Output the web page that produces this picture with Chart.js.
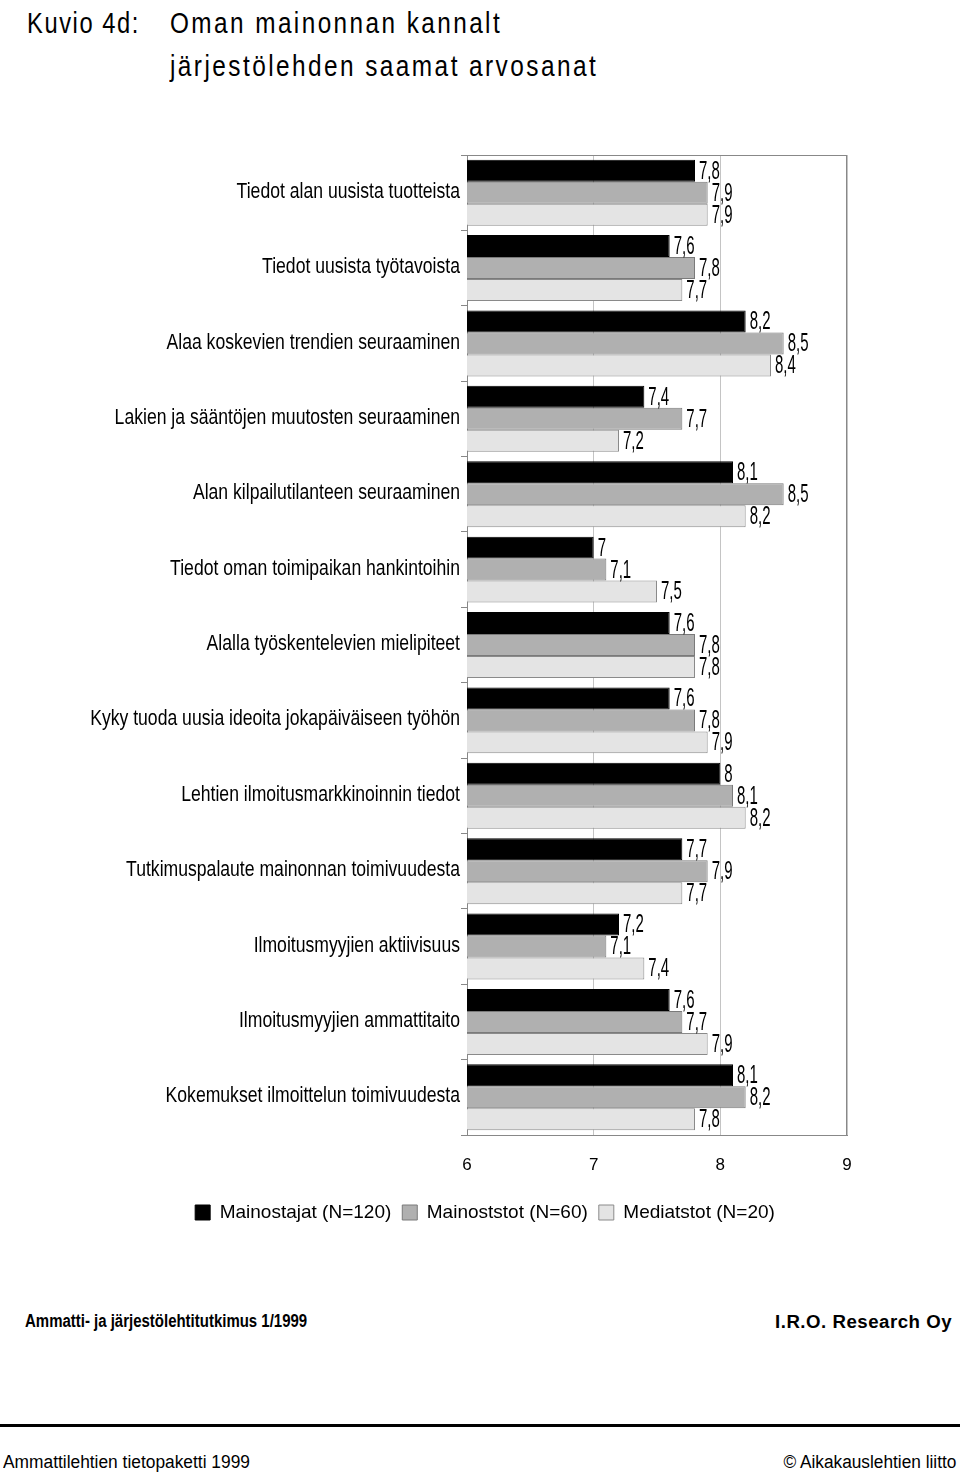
<!DOCTYPE html>
<html>
<head>
<meta charset="utf-8">
<script src="https://cdn.jsdelivr.net/npm/chart.js@4.4.0/dist/chart.umd.min.js"></script>
<style>
  body { margin: 0; background: #fff; width: 960px; height: 1474px; position: relative; overflow: hidden;
         font-family: "Liberation Sans", Arial, sans-serif; color: #000; }
  .teksti { position: absolute; white-space: nowrap; line-height: 1; }
  #kaavio { position: absolute; left: 0; top: 150px; width: 960px; height: 1082px; }
</style>
</head>
<body>
<div class="teksti" data-w="113" style="left:27px; top:8px; font-size:30px; letter-spacing:2px;">Kuvio 4d:</div>
<div class="teksti" data-w="332" style="left:170px; top:8px; font-size:30px; letter-spacing:3px;">Oman mainonnan kannalt</div>
<div class="teksti" data-w="428" style="left:170px; top:51px; font-size:30px; letter-spacing:3px;">järjestölehden saamat arvosanat</div>

<div id="kaavio"><canvas id="graafi"></canvas></div>

<div class="teksti" data-w="282" style="left:25px; top:1312px; font-size:18px; font-weight:bold;">Ammatti- ja järjestölehtitutkimus 1/1999</div>
<div class="teksti" data-w="177" data-oikea="1" style="right:8px; top:1313px; font-size:18px; font-weight:bold; letter-spacing:0.5px;">I.R.O. Research Oy</div>
<div class="teksti" style="left:0; top:1424px; width:960px; height:3px; background:#000;"></div>
<div class="teksti" data-w="247" style="left:3px; top:1453px; font-size:18px;">Ammattilehtien tietopaketti 1999</div>
<div class="teksti" data-w="173" data-oikea="1" style="right:4px; top:1453px; font-size:18px;">© Aikakauslehtien liitto</div>

<script>
const kategoriat = [
  'Tiedot alan uusista tuotteista',
  'Tiedot uusista työtavoista',
  'Alaa koskevien trendien seuraaminen',
  'Lakien ja sääntöjen muutosten seuraaminen',
  'Alan kilpailutilanteen seuraaminen',
  'Tiedot oman toimipaikan hankintoihin',
  'Alalla työskentelevien mielipiteet',
  'Kyky tuoda uusia ideoita jokapäiväiseen työhön',
  'Lehtien ilmoitusmarkkinoinnin tiedot',
  'Tutkimuspalaute mainonnan toimivuudesta',
  'Ilmoitusmyyjien aktiivisuus',
  'Ilmoitusmyyjien ammattitaito',
  'Kokemukset ilmoittelun toimivuudesta'
];
const mainostajat = [7.8, 7.6, 8.2, 7.4, 8.1, 7.0, 7.6, 7.6, 8.0, 7.7, 7.2, 7.6, 8.1];
const mainostoimistot = [7.9, 7.8, 8.5, 7.7, 8.5, 7.1, 7.8, 7.8, 8.1, 7.9, 7.1, 7.7, 8.2];
const mediatoimistot = [7.9, 7.7, 8.4, 7.2, 8.2, 7.5, 7.8, 7.9, 8.2, 7.7, 7.4, 7.9, 7.8];
const sarjaNimet = ['Mainostajat (N=120)', 'Mainoststot (N=60)', 'Mediatstot (N=20)'];
const asteikko = [6, 7, 8, 9];

const fontti = '"Liberation Sans", Arial, sans-serif';

// html-tekstit kavennetaan kuvan leveyteen
document.querySelectorAll('.teksti[data-w]').forEach(el => {
  const k = Number(el.dataset.w) / el.getBoundingClientRect().width;
  el.style.transformOrigin = el.dataset.oikea ? 'right center' : 'left center';
  el.style.transform = 'scaleX(' + k.toFixed(3) + ')';
});

function kapeaTeksti(ctx, teksti, x, y, kerroin) {
  ctx.save();
  ctx.translate(x, y);
  ctx.scale(kerroin, 1);
  ctx.fillText(teksti, 0, 0);
  ctx.restore();
}

// luokkien nimet ja arvot kapealla kirjaimella
const tekstit = {
  id: 'tekstit',
  afterDatasetsDraw(chart) {
    const ctx = chart.ctx;
    const y = chart.scales.y;
    ctx.save();
    ctx.fillStyle = '#000';
    ctx.textBaseline = 'middle';

    ctx.font = '22px ' + fontti;
    ctx.textAlign = 'right';
    chart.data.labels.forEach((nimi, i) => {
      kapeaTeksti(ctx, nimi, y.right - 7, y.getPixelForTick(i) - 1, 0.8);
    });

    ctx.font = '25px ' + fontti;
    ctx.textAlign = 'left';
    chart.data.datasets.forEach((ds, i) => {
      chart.getDatasetMeta(i).data.forEach((palkki, j) => {
        kapeaTeksti(ctx, String(ds.data[j]).replace('.', ','), palkki.x + 4, palkki.y + 1, 0.6);
      });
    });
    ctx.restore();
  }
};

const kehys = {
  id: 'kehys',
  beforeDatasetsDraw(chart) {
    const a = chart.chartArea;
    const ctx = chart.ctx;
    ctx.save();
    ctx.strokeStyle = '#888';
    ctx.lineWidth = 1;
    ctx.strokeRect(a.left + 0.5, a.top + 0.5, a.right - a.left - 1, a.bottom - a.top);
    ctx.restore();
  }
};

new Chart(document.getElementById('graafi'), {
  type: 'bar',
  data: {
    labels: kategoriat,
    datasets: [
      { label: sarjaNimet[0], data: mainostajat, backgroundColor: '#000', borderColor: '#000', borderWidth: 1 },
      { label: sarjaNimet[1], data: mainostoimistot, backgroundColor: '#b0b0b0', borderColor: '#7a7a7a', borderWidth: 1 },
      { label: sarjaNimet[2], data: mediatoimistot, backgroundColor: '#e4e4e4', borderColor: '#8a8a8a', borderWidth: 1 }
    ]
  },
  options: {
    indexAxis: 'y',
    responsive: true,
    maintainAspectRatio: false,
    animation: false,
    categoryPercentage: 0.875,
    barPercentage: 1.0,
    layout: { padding: { top: 5, right: 113, left: 123, bottom: 0 } },
    plugins: {
      tooltip: { enabled: false },
      legend: {
        position: 'bottom',
        labels: {
          boxWidth: 15, boxHeight: 15, padding: 11, color: '#000',
          font: { family: fontti, size: 19 }
        }
      }
    },
    scales: {
      x: {
        min: asteikko[0], max: asteikko[asteikko.length - 1],
        afterBuildTicks: s => { s.ticks = asteikko.map(v => ({ value: v })); },
        afterFit: s => { s.height = 57; },
        ticks: { color: '#000', padding: 20, font: { family: fontti, size: 17 } },
        grid: { color: '#c4c4c4', drawTicks: false },
        border: { color: '#888' }
      },
      y: {
        afterFit: s => { s.width = 344; },
        ticks: { display: false },
        grid: { drawOnChartArea: false, tickLength: 6, color: '#888' },
        border: { color: '#888' }
      }
    }
  },
  plugins: [kehys, tekstit]
});
</script>
</body>
</html>
